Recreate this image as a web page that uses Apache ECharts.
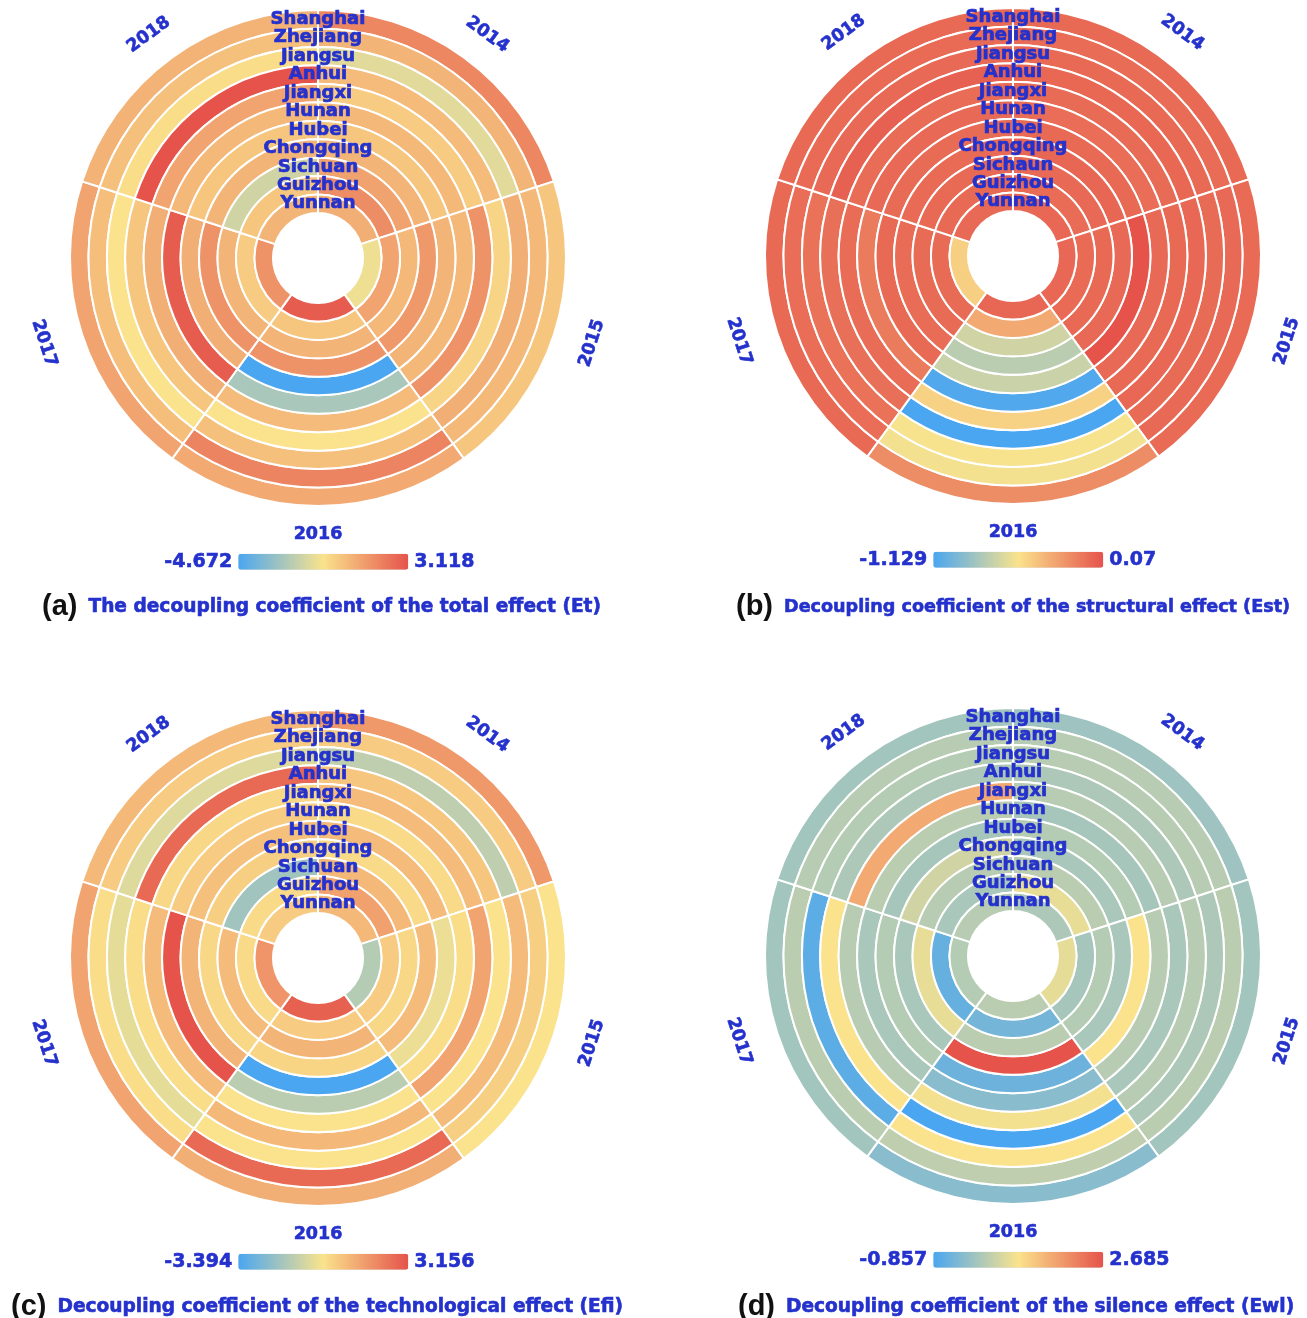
<!DOCTYPE html>
<html>
<head>
<meta charset="utf-8">
<script src="https://cdn.jsdelivr.net/npm/echarts@6/dist/echarts.min.js"></script>
<style>
  html, body { margin: 0; padding: 0; background: #fff; }
  #chart { width: 1307px; height: 1318px; }
</style>
</head>
<body>
<div id="chart"></div>
<script>
const years = ['2014', '2015', '2016', '2017', '2018'];
const provinces = ['Shanghai', 'Zhejiang', 'Jiangsu', 'Anhui', 'Jiangxi', 'Hunan', 'Hubei', 'Chongqing', 'Sichuan', 'Guizhou', 'Yunnan'];
// panel (b) carries the original spelling
const provincesB = ['Shanghai', 'Zhejiang', 'Jiangsu', 'Anhui', 'Jiangxi', 'Hunan', 'Hubei', 'Chongqing', 'Sichaun', 'Guizhou', 'Yunnan'];

// one row per year (2014..2018), columns Shanghai -> Yunnan
const etValues = [
  [1.716, 0.462, -1.322, 0.318, -0.151, 0.395, 0.006, 0.473, 0.941, 1.558, 0.627],
  [0.004, 0.388, 0.621, -0.388, 1.404, 0.397, 0.466, 1.248, 0.392, 0.933, -1.011],
  [0.781, 1.794, 0.158, -0.777, 0.314, -2.569, -4.672, 1.404, 0.469, 0.002, 2.884],
  [0.937, 0.236, -0.772, 0.008, 0.625, 2.884, 0.629, 1.398, 0.471, -0.154, 1.404],
  [0.547, 0.158, -0.621, 3.118, 0.937, 0.392, 0.002, 0.469, -1.712, 0.005, 0.466]
];
const estValues = [
  [-0.026, -0.034, -0.025, -0.016, -0.028, -0.037, -0.024, -0.015, -0.027, -0.036, -0.018],
  [-0.031, -0.022, -0.029, -0.018, -0.025, -0.020, 0.070, -0.027, -0.024, -0.030, -0.019],
  [-0.170, -0.553, -0.541, -1.129, -0.458, -1.105, -0.697, -0.745, -0.673, -0.290, -0.014],
  [-0.026, -0.038, -0.060, -0.050, -0.032, -0.098, -0.024, -0.035, -0.028, -0.029, -0.446],
  [-0.025, -0.030, -0.027, 0.010, -0.033, -0.022, -0.028, -0.031, -0.024, -0.026, -0.020]
];
const efiValues = [
  [1.584, 0.405, -1.233, 0.536, 0.798, 0.078, 0.798, 0.078, 0.864, 1.388, 0.864],
  [-0.119, 0.340, 0.798, -0.119, 1.322, 0.012, -0.381, 0.798, 0.143, 0.405, -1.429],
  [1.060, 2.632, -0.119, 0.864, -0.119, -1.298, -3.394, 0.209, 0.929, 0.405, 2.829],
  [1.322, 0.012, -0.512, 0.012, 0.798, 3.156, 0.929, 0.143, 0.798, 0.078, 1.650],
  [0.864, 0.405, -0.643, 2.632, 0.143, 0.405, 0.667, 0.340, -1.757, 0.078, 0.405]
];
const ewlValues = [
  [-0.007, 0.241, 0.241, 0.135, 0.241, 0.064, 0.206, 0.099, 0.276, 0.737, 0.135],
  [0.029, 0.276, 0.135, 0.241, 0.099, 0.241, 0.914, 0.099, 0.206, 0.064, 0.701],
  [-0.219, 0.312, 0.914, -0.857, 0.843, -0.219, -0.503, 2.685, 0.276, -0.432, 0.276],
  [0.029, 0.276, -0.680, 0.914, 0.241, 0.099, 0.206, 0.099, 0.737, -0.574, 0.206],
  [0.029, 0.241, 0.206, 0.135, 1.622, 0.276, 0.064, 0.489, 0.241, 0.099, 0.241]
];

const etRange = [-4.672, 3.118];
const estRange = [-1.129, 0.07];
const efiRange = [-3.394, 3.156];
const ewlRange = [-0.857, 2.685];

const palette = ['#4aa6f0', '#fae38c', '#e5534b'];
const blue = '#2431cc';
const font = 'DejaVu Sans';

const panels = [
  { tag: '(a)', caption: 'The decoupling coefficient of the total effect (Et)', values: etValues, range: etRange, labels: provinces, cx: 318, cy: 258, capX: 37, capY: 586, capSize: 18.6 },
  { tag: '(b)', caption: 'Decoupling coefficient of the structural effect (Est)', values: estValues, range: estRange, labels: provincesB, cx: 1013, cy: 256, capX: 731, capY: 586, capSize: 17.6 },
  { tag: '(c)', caption: 'Decoupling coefficient of the technological effect (Efi)', values: efiValues, range: efiRange, labels: provinces, cx: 318, cy: 958, capX: 6, capY: 1286, capSize: 18.6 },
  { tag: '(d)', caption: 'Decoupling coefficient of the silence effect (Ewl)', values: ewlValues, range: ewlRange, labels: provinces, cx: 1013, cy: 956, capX: 733, capY: 1286, capSize: 18.6 }
];

function renderCell(params, api) {
  const values = [api.value(0), api.value(1)];
  const coord = api.coord(values);
  const size = api.size([1, 1], values);
  return {
    type: 'sector',
    shape: {
      cx: params.coordSys.cx,
      cy: params.coordSys.cy,
      r0: coord[2] - size[0] / 2,
      r: coord[2] + size[0] / 2,
      startAngle: -(coord[3] + size[1] / 2),
      endAngle: -(coord[3] - size[1] / 2)
    },
    style: { fill: api.visual('color'), stroke: '#fff', lineWidth: 2 }
  };
}

const option = {
  backgroundColor: '#fff',
  polar: [], angleAxis: [], radiusAxis: [], series: [], visualMap: [], title: [], graphic: []
};

panels.forEach((p, i) => {
  option.polar.push({ center: [p.cx, p.cy], radius: [45, 248] });
  option.angleAxis.push({
    polarIndex: i, type: 'category', data: years, startAngle: 90,
    axisLine: { show: false }, axisTick: { show: false }, axisLabel: { show: false },
    splitLine: { show: false }
  });
  option.radiusAxis.push({
    polarIndex: i, type: 'category', data: p.labels, inverse: true, z: 10,
    axisLine: { show: false }, axisTick: { show: false }, splitLine: { show: false },
    axisLabel: {
      interval: 0, margin: 0, align: 'center', verticalAlign: 'middle',
      color: blue, fontFamily: font, fontWeight: 'bold', fontSize: 18,
      textBorderColor: blue, textBorderWidth: 0.7
    }
  });

  const data = [];
  p.values.forEach((row, yi) => row.forEach((v, pi) => data.push([pi, yi, v])));
  option.series.push({
    type: 'custom', coordinateSystem: 'polar', polarIndex: i,
    renderItem: renderCell, data: data
  });

  option.visualMap.push({
    type: 'continuous', seriesIndex: i, dimension: 2,
    min: p.range[0], max: p.range[1],
    orient: 'horizontal', left: p.cx - 169, top: p.cy + 279,
    itemWidth: 16, itemHeight: 170, textGap: 6,
    text: [String(p.range[1]), String(p.range[0])],
    calculable: false,
    inRange: { color: palette },
    textStyle: {
      color: blue, fontFamily: font, fontWeight: 'bold', fontSize: 19,
      textBorderColor: blue, textBorderWidth: 0.6
    }
  });

  option.title.push({
    left: p.capX, top: p.capY,
    text: '{t|' + p.tag + '}{g| }{c|' + p.caption + '}',
    textStyle: {
      rich: {
        t: { fontFamily: 'Liberation Sans', fontWeight: 'bold', fontSize: 29, color: '#111', lineHeight: 32 },
        g: { width: 11, fontSize: 10, lineHeight: 32 },
        c: {
          fontFamily: font, fontWeight: 'bold', fontSize: p.capSize, color: blue, lineHeight: 32,
          textBorderColor: blue, textBorderWidth: 0.6
        }
      }
    }
  });

  // year labels around the rim, turned along the circle
  years.forEach((y, k) => {
    const mid = 90 - 72 * k - 36;
    const a = mid * Math.PI / 180;
    let rot = mid - 90;
    while (rot <= -180) rot += 360;
    if (rot > 90) rot -= 180;
    if (rot < -90) rot += 180;
    option.graphic.push({
      type: 'text',
      x: p.cx + 288 * Math.cos(a),
      y: p.cy - 276 * Math.sin(a),
      rotation: rot * Math.PI / 180,
      style: {
        text: y, align: 'center', verticalAlign: 'middle',
        font: 'bold 17.5px "' + font + '"', fill: blue,
        stroke: blue, lineWidth: 0.6
      }
    });
  });
});

const chart = echarts.init(document.getElementById('chart'));
chart.setOption(option);
</script>
</body>
</html>
